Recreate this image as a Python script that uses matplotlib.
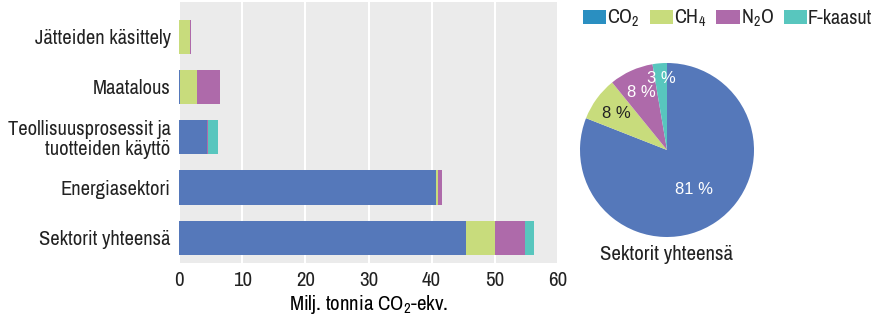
import numpy as np
import matplotlib
matplotlib.use("Agg")
import matplotlib.pyplot as plt
from matplotlib.patches import Patch

FONTTI = 'Archivo Narrow'
plt.rcParams['font.family'] = [FONTTI, 'DejaVu Sans']
plt.rcParams['mathtext.fontset'] = 'custom'
plt.rcParams['mathtext.rm'] = FONTTI
plt.rcParams['mathtext.it'] = FONTTI
plt.rcParams['text.color'] = '#222222'
plt.rcParams['xtick.color'] = '#222222'
plt.rcParams['ytick.color'] = '#222222'

# sektorit alhaalta ylös
sektorit = ['Sektorit yhteensä', 'Energiasektori',
            'Teollisuusprosessit ja\ntuotteiden käyttö', 'Maatalous', 'Jätteiden käsittely']
kaasut = ['CO$_2$', 'CH$_4$', 'N$_2$O', 'F-kaasut']

co2 = [45.5, 40.7, 4.4, 0.2, 0.0]
ch4 = [4.6, 0.3, 0.05, 2.6, 1.75]
n2o = [4.6, 0.6, 0.2, 3.7, 0.15]
fkaasut = [1.5, 0.0, 1.5, 0.0, 0.0]

varit = ['#5578BA', '#C8DC7C', '#AE6AAA', '#58C6BE']
legend_varit = ['#2A8FC1', '#C8DC7C', '#AE6AAA', '#58C6BE']
prosentit = ['81 %', '8 %', '8 %', '3 %']

fig = plt.figure(figsize=(8.78, 3.21), dpi=100)

# pylväskaavio
ax = fig.add_axes([179/878, 1 - 263/321, 379/878, 261/321])
ax.set_facecolor('#EBEBEB')
y = np.arange(len(sektorit))
left = np.zeros(len(sektorit))
for arvot, vari in zip([co2, ch4, n2o, fkaasut], varit):
    ax.barh(y, arvot, left=left, height=0.68, color=vari, edgecolor='none')
    left += np.array(arvot)

ax.set_xlim(0, 60)
ax.set_ylim(-0.5, 4.69)
ax.set_xticks(range(0, 61, 10))
ax.set_yticks(y)
ax.set_yticklabels(sektorit, fontsize=14.8, linespacing=1.05)
ax.tick_params(axis='both', length=0, pad=6)
ax.tick_params(axis='x', labelsize=15)
ax.xaxis.grid(True, color='white', linewidth=1.5)
ax.set_axisbelow(True)
for s in ax.spines.values():
    s.set_visible(False)
ax.set_xlabel('Milj. tonnia CO$_2$-ekv.', fontsize=15, labelpad=2)

# piirakka: sektorit yhteensä
pax = fig.add_axes([580/878, 1 - 237/321, 174/878, 174/321])
osuudet = [co2[0], ch4[0], n2o[0], fkaasut[0]]
wedges, _ = pax.pie(osuudet, colors=varit, startangle=90, counterclock=False,
                    wedgeprops=dict(linewidth=0))
pax.set_xlim(-1, 1)
pax.set_ylim(-1, 1)
pax.set_aspect('equal')

etaisyys = [0.55, 0.72, 0.72, 0.82]
tekstivari = ['white', '#222222', 'white', 'white']
for w, teksti, r, c in zip(wedges, prosentit, etaisyys, tekstivari):
    kulma = np.deg2rad((w.theta1 + w.theta2) / 2)
    pax.text(r * np.cos(kulma), r * np.sin(kulma), teksti, ha='center', va='center',
             fontsize=12, color=c, family=['Liberation Sans', 'DejaVu Sans'])

fig.text(667/878, 1 - 255/321, 'Sektorit yhteensä', ha='center', va='center', fontsize=15)

kahvat = [Patch(facecolor=c, edgecolor='none') for c in legend_varit]
fig.legend(kahvat, kaasut, loc='upper left', bbox_to_anchor=(583/878, 0.975), ncol=4,
           frameon=False, fontsize=14.5, handlelength=1.15, handleheight=0.75,
           handletextpad=0.05, columnspacing=0.5, borderaxespad=0, borderpad=0)

fig.savefig('out.png', dpi=100)
